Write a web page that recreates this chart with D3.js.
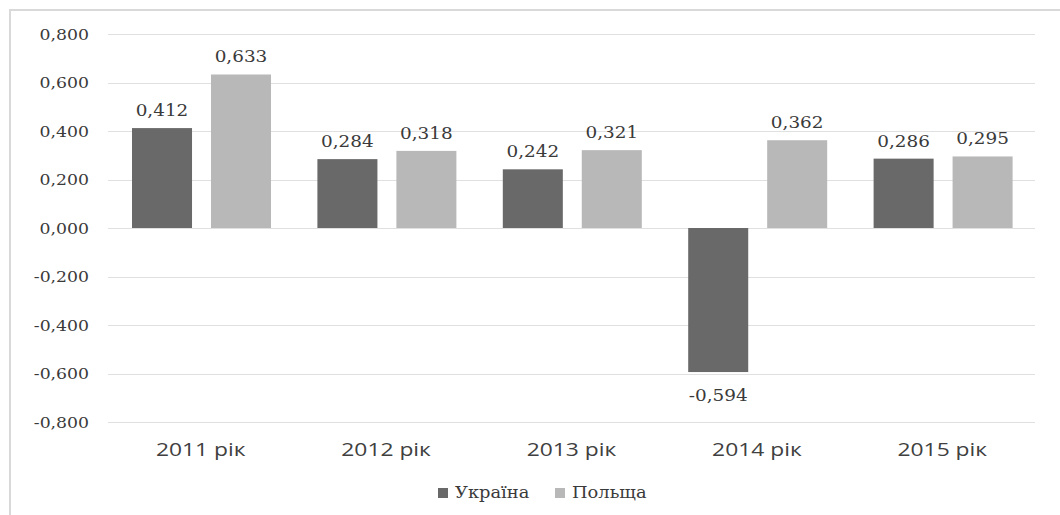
<!DOCTYPE html>
<html><head><meta charset="utf-8">
<script src="https://cdn.jsdelivr.net/npm/d3@7"></script>
<style>body{margin:0;background:#fff}</style>
</head><body>
<svg id="c" width="1060" height="515"></svg>
<script>
const categories = ["2011 рік","2012 рік","2013 рік","2014 рік","2015 рік"];
const seriesNames = ["Україна","Польща"];
const ukraine = [0.412,0.284,0.242,-0.594,0.286];
const poland = [0.633,0.318,0.321,0.362,0.295];
const yTicks = [-0.8,-0.6,-0.4,-0.2,0,0.2,0.4,0.6,0.8];
const colors = ["#696969","#b8b8b8"];

(function(){
const SERIF = "'DejaVu Serif', 'Liberation Serif', serif";
const SANS = "'Open Sans', sans-serif";
const svg = d3.select("#c");
svg.append("rect").attr("x",10).attr("y",10).attr("width",1100).attr("height",600)
  .attr("fill","none").attr("stroke","#d9d9d9").attr("stroke-width",2);

function fitWidth(sel, target){
  sel.each(function(){
    const w = this.getComputedTextLength();
    d3.select(this).attr("textLength", target(w)).attr("lengthAdjust","spacingAndGlyphs");
  });
}

const pl=108, pr=1035, pt=34, pb=422;
const y = d3.scaleLinear().domain([-0.8,0.8]).range([pb,pt]);
const x0 = d3.scaleBand().domain(categories).range([pl,pr]).paddingInner(0).paddingOuter(0);
const x1 = d3.scaleBand().domain(seriesNames).range([24,163]).paddingInner(0.24);

const fmt = v => d3.format(".3f")(v).replace(".",",").replace("−","-");

svg.append("g").selectAll("line").data(yTicks).join("line")
  .attr("x1",pl).attr("x2",pr)
  .attr("y1",d=>Math.round(y(d))+0.5).attr("y2",d=>Math.round(y(d))+0.5)
  .attr("stroke","#e0e0e0").attr("stroke-width",1.2);

const yAxis = d3.axisLeft(y).tickValues(yTicks).tickSize(0).tickPadding(19).tickFormat(fmt);
const ya = svg.append("g").attr("transform",`translate(${pl},0)`).call(yAxis);
ya.select(".domain").remove();
ya.selectAll("text").style("font-family",SERIF).style("font-size","15px").attr("fill","#3a3a3a").attr("dy","0.36em");
fitWidth(ya.selectAll("text"), w=>w*1.15);

const xAxis = d3.axisBottom(x0).tickSize(0).tickPadding(21);
const xa = svg.append("g").attr("transform",`translate(0,${pb})`).call(xAxis);
xa.select(".domain").remove();
xa.selectAll("text").style("font-family",SANS).style("font-size","19px").attr("fill","#404040");
fitWidth(xa.selectAll("text"), w=>w*1.2);

const data = categories.map((c,i)=>({c, vals:[{s:seriesNames[0],v:ukraine[i]},{s:seriesNames[1],v:poland[i]}]}));
const g = svg.append("g").selectAll("g").data(data).join("g")
  .attr("transform",d=>`translate(${x0(d.c)},0)`);
g.selectAll("rect").data(d=>d.vals).join("rect")
  .attr("x",d=>x1(d.s)).attr("width",x1.bandwidth())
  .attr("y",d=>y(Math.max(0,d.v))).attr("height",d=>Math.abs(y(d.v)-y(0)))
  .attr("fill",(d,i)=>colors[i]);
const vl = g.selectAll("text").data(d=>d.vals).join("text")
  .attr("x",d=>x1(d.s)+x1.bandwidth()/2)
  .attr("y",d=>d.v>=0? y(d.v)-12 : y(d.v)+29)
  .attr("text-anchor","middle")
  .style("font-family",SERIF).style("font-size","16px").attr("fill","#3a3a3a")
  .text(d=>fmt(d.v));
fitWidth(vl, w=>w*1.15);

const leg = svg.append("g").attr("transform","translate(438,498)");
const items = [{n:seriesNames[0],x:0},{n:seriesNames[1],x:117}];
items.forEach((it,i)=>{
  leg.append("rect").attr("x",it.x).attr("y",-10).attr("width",10).attr("height",10).attr("fill",colors[i]);
  const t = leg.append("text").attr("x",it.x+17).attr("y",0).style("font-family",SERIF)
    .style("font-size","17px").attr("fill","#3a3a3a").text(it.n);
  fitWidth(t, w=>w*1.05);
});
})();
</script>
</body></html>
